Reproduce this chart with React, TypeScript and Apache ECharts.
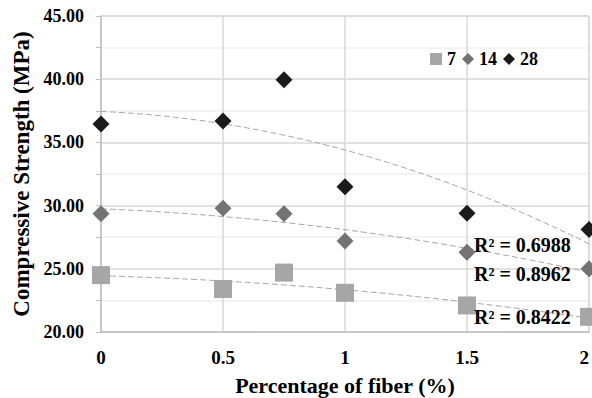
import React, { useEffect, useRef } from 'react';
import * as echarts from 'echarts';

// Data
const fiberPct = [0, 0.5, 0.75, 1, 1.5, 2];
const strength7 = [24.5, 23.4, 24.7, 23.1, 22.1, 21.2];
const strength14 = [29.35, 29.8, 29.35, 27.2, 26.3, 25.0];
const strength28 = [36.45, 36.7, 39.95, 31.5, 29.4, 28.1];
const ageNames = ['7', '14', '28'];
const r2Labels = ['R² = 0.6988', 'R² = 0.8962', 'R² = 0.8422'];
const xTickValues = [0, 0.5, 1, 1.5, 2];
const yTickValues = [20, 25, 30, 35, 40, 45];

const FONT = 'Times New Roman, Liberation Serif, serif';

// Least-squares 2nd-order polynomial trendline (as in the spreadsheet)
function quadFit(xs: number[], ys: number[]) {
  const s = (f: (x: number, y: number) => number) => xs.reduce((acc, x, i) => acc + f(x, ys[i]), 0);
  const n = xs.length;
  const sx = s((x) => x), sx2 = s((x) => x * x), sx3 = s((x) => x ** 3), sx4 = s((x) => x ** 4);
  const sy = s((_, y) => y), sxy = s((x, y) => x * y), sx2y = s((x, y) => x * x * y);
  const M = [
    [n, sx, sx2, sy],
    [sx, sx2, sx3, sxy],
    [sx2, sx3, sx4, sx2y],
  ];
  for (let i = 0; i < 3; i++) {
    for (let k = i + 1; k < 3; k++) {
      const f = M[k][i] / M[i][i];
      for (let j = i; j < 4; j++) M[k][j] -= f * M[i][j];
    }
  }
  const c = [0, 0, 0];
  for (let i = 2; i >= 0; i--) {
    let v = M[i][3];
    for (let j = i + 1; j < 3; j++) v -= M[i][j] * c[j];
    c[i] = v / M[i][i];
  }
  return (x: number) => c[0] + c[1] * x + c[2] * x * x;
}

function trendPoints(xs: number[], ys: number[]) {
  const f = quadFit(xs, ys);
  const pts: number[][] = [];
  const lo = Math.min(...xs), hi = Math.max(...xs);
  const steps = 40;
  for (let i = 0; i <= steps; i++) {
    const x = lo + ((hi - lo) * i) / steps;
    pts.push([x, f(x)]);
  }
  return pts;
}

const pair = (ys: number[]) => fiberPct.map((x, i) => [x, ys[i]]);

export default function App() {
  const ref = useRef<HTMLDivElement>(null);
  useEffect(() => {
    if (!ref.current) return;
    const chart = echarts.init(ref.current, null, { renderer: 'svg' });
    const trendStyle = { color: '#a6a6a6', width: 1, type: [6, 3] as any };
    const trendSeries = (ys: number[]) => ({
      type: 'line',
      data: trendPoints(fiberPct, ys),
      showSymbol: false,
      symbol: 'none',
      lineStyle: trendStyle,
      silent: true,
      z: 1,
    });
    const textBold = { fontFamily: FONT, fontWeight: 'bold' as const, color: '#000' };
    const r2Style = (text: string) => ({
      text,
      fontFamily: FONT,
      fontWeight: 'bold',
      fontSize: 20,
      fill: '#000',
      verticalAlign: 'middle',
    });
    chart.setOption({
      animation: false,
      backgroundColor: '#ffffff',
      textStyle: { fontFamily: FONT },
      grid: {
        left: 101,
        right: 3,
        top: 16,
        bottom: 66,
        show: true,
        borderColor: '#d9d9d9',
        borderWidth: 1,
        containLabel: false,
        outerBoundsMode: 'none',
      },
      legend: {
        left: 425,
        top: 45,
        itemWidth: 12,
        itemHeight: 12,
        itemGap: 6,
        data: [
          { name: ageNames[0], icon: 'rect' },
          { name: ageNames[1], icon: 'diamond' },
          { name: ageNames[2], icon: 'diamond' },
        ],
        textStyle: { ...textBold, fontSize: 18 },
      },
      xAxis: {
        type: 'value',
        min: 0,
        max: 2,
        interval: 0.5,
        name: 'Percentage of fiber (%)',
        nameLocation: 'middle',
        nameGap: 42,
        nameTextStyle: { ...textBold, fontSize: 22 },
        axisLine: { show: true, lineStyle: { color: '#bfbfbf', width: 1.5 } },
        axisTick: { show: false },
        axisLabel: {
          margin: 16,
          ...textBold,
          fontSize: 19,
          alignMaxLabel: 'right',
          formatter: (v: number) => (xTickValues.includes(v) ? String(v) : ''),
        },
        splitLine: { show: true, lineStyle: { color: '#d9d9d9', width: 1.5 } },
      },
      yAxis: {
        type: 'value',
        min: 20,
        max: 45,
        interval: 5,
        name: 'Compressive Strength (MPa)',
        nameLocation: 'middle',
        nameGap: 68,
        nameTextStyle: { ...textBold, fontSize: 23 },
        axisLine: { show: true, lineStyle: { color: '#bfbfbf', width: 1.5 } },
        axisTick: { show: true, inside: false, length: 5, lineStyle: { color: '#bfbfbf' } },
        minorTick: { show: true, splitNumber: 2, length: 5, lineStyle: { color: '#bfbfbf' } },
        axisLabel: {
          margin: 17,
          ...textBold,
          fontSize: 18,
          formatter: (v: number) => (yTickValues.includes(v) ? v.toFixed(2) : ''),
        },
        splitLine: { show: true, lineStyle: { color: '#d9d9d9', width: 1.5 } },
        minorSplitLine: { show: true, lineStyle: { color: '#efefef', width: 1.5 } },
      },
      series: [
        trendSeries(strength28),
        trendSeries(strength14),
        trendSeries(strength7),
        {
          name: ageNames[0],
          type: 'scatter',
          data: pair(strength7),
          symbol: 'rect',
          symbolSize: 18,
          itemStyle: { color: '#a6a6a6', opacity: 1 },
          z: 3,
        },
        {
          name: ageNames[1],
          type: 'scatter',
          data: pair(strength14),
          symbol: 'diamond',
          symbolSize: 17,
          itemStyle: { color: '#737373', opacity: 1 },
          z: 3,
        },
        {
          name: ageNames[2],
          type: 'scatter',
          data: pair(strength28),
          symbol: 'diamond',
          symbolSize: 17,
          itemStyle: { color: '#1a1a1a', opacity: 1 },
          z: 3,
        },
      ],
      graphic: [
        { type: 'text', x: 474, y: 245, z: 10, style: r2Style(r2Labels[0]) },
        { type: 'text', x: 474, y: 274, z: 10, style: r2Style(r2Labels[1]) },
        { type: 'text', x: 474, y: 317, z: 10, style: r2Style(r2Labels[2]) },
      ],
    });
    return () => chart.dispose();
  }, []);
  return <div ref={ref} style={{ position: 'fixed', left: 0, top: 0, width: 592, height: 398 }} />;
}
